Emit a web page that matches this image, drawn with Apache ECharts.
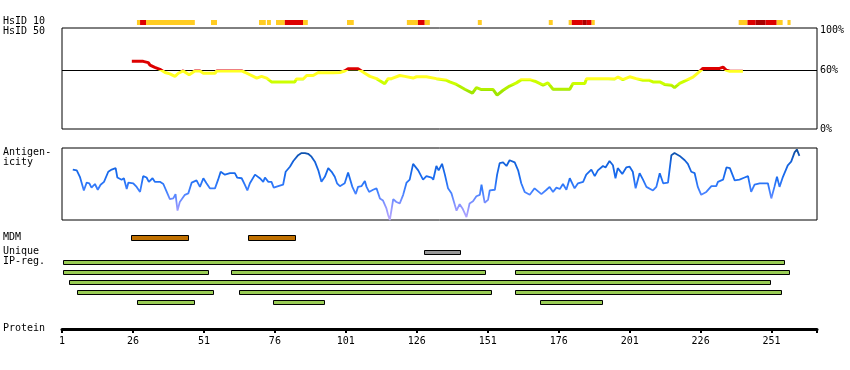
<!DOCTYPE html>
<html><head><meta charset="utf-8">
<script src="https://cdn.jsdelivr.net/npm/echarts@6/dist/echarts.min.js"></script>
<style>html,body{margin:0;padding:0;background:#fff}#c{width:850px;height:370px}</style>
</head><body><div id="c"></div>
<script>
// ---------- data ----------
const proteinTicks = [1, 26, 51, 76, 101, 126, 151, 176, 201, 226, 251];
const proteinEnd = 267;
const identityTickLabels = [0, 60, 100];

// HsID 10 segments: [start residue, end residue, level] (1 = yellow, 2 = red, 3 = dark red)
const hsid10 = [
  [27.4, 28.5, 1], [28.5, 30.6, 2], [30.6, 47.8, 1],
  [53.5, 55.6, 1],
  [70.4, 72.8, 1], [73.2, 74.6, 1],
  [76.4, 79.5, 1], [79.5, 85.9, 2], [85.9, 87.6, 1],
  [101.4, 103.8, 1],
  [122.5, 126.4, 1], [126.4, 128.8, 2], [128.8, 130.6, 1],
  [147.5, 148.9, 1],
  [172.5, 173.9, 1],
  [179.5, 180.6, 1], [180.6, 184.5, 2], [184.5, 185.9, 3], [185.9, 187.6, 2], [187.6, 188.7, 1],
  [239.4, 242.5, 1], [242.5, 245.4, 2], [245.4, 248.9, 3], [248.9, 252.8, 2], [252.8, 254.9, 1],
  [256.6, 257.7, 1]
];

// HsID 50 identity (%) : [residue, identity]
const identity = [
  [25.6, 68.8], [29.6, 68.8], [30.0, 67.5], [31.4, 67.5], [32.0, 64.9], [33.7, 62.6], [35.5, 60.7],
  [37.3, 57.4], [39.0, 56.1], [40.8, 53.5], [42.0, 56.7], [43.7, 59.0], [45.8, 55.1], [47.8, 59.0],
  [49.6, 59.0], [50.8, 56.7], [54.9, 56.7], [55.5, 59.0], [64.3, 59.0], [65.4, 57.7], [66.0, 59.3],
  [68.4, 53.5], [69.6, 51.8], [71.3, 53.5], [73.1, 51.8], [74.8, 47.9], [83.0, 47.9], [83.6, 50.8],
  [86.0, 50.8], [87.2, 54.4], [89.5, 54.4], [91.3, 57.4], [91.8, 58.7], [92.4, 57.1], [96.5, 57.1],
  [97.1, 59.0], [98.9, 57.4], [100.6, 59.0], [101.8, 61.3], [105.3, 61.3], [105.9, 60.0], [107.7, 56.7],
  [109.5, 53.5], [111.8, 51.2], [114.7, 46.0], [115.9, 51.2], [117.1, 51.2], [120.0, 54.4], [121.8, 53.5],
  [124.7, 51.8], [125.9, 53.1], [129.4, 53.1], [130.0, 51.2], [132.9, 51.2], [133.5, 49.5], [136.5, 49.5],
  [137.6, 47.9], [140.0, 45.3], [142.9, 40.4], [145.6, 36.5], [147.0, 42.0], [148.8, 40.1], [152.9, 40.1],
  [154.3, 34.5], [156.4, 39.4], [158.7, 43.7], [161.1, 46.9], [162.9, 50.2], [165.8, 50.2], [167.6, 48.6],
  [170.5, 44.6], [172.2, 46.9], [174.0, 40.4], [179.9, 40.4], [181.0, 46.3], [185.2, 46.3], [185.8, 51.2],
  [193.4, 51.2], [194.0, 52.8], [195.7, 50.8], [196.9, 52.8], [198.6, 50.2], [201.0, 53.1], [203.3, 51.2],
  [205.7, 49.5], [208.0, 49.5], [209.2, 47.9], [211.6, 47.9], [213.3, 45.3], [215.7, 44.6], [216.8, 42.0],
  [218.6, 46.3], [220.9, 49.5], [223.3, 52.8], [225.6, 58.4], [226.8, 61.6], [229.2, 61.6], [229.8, 62.9],
  [231.0, 61.6], [232.7, 61.6], [233.9, 62.9], [235.1, 59.7], [236.3, 58.7], [240.9, 58.7]
];

// Antigenicity (relative score 0-100): [residue, score]
const antigenicity = [
  [4.8, 70], [6.2, 69], [7.3, 60], [8.7, 41], [9.7, 52], [10.6, 51], [11.4, 45], [12.6, 50], [13.6, 42],
  [14.6, 49], [15.8, 53], [17.3, 67], [18.5, 70], [19.9, 72], [20.5, 59], [22.0, 56], [22.8, 58], [23.8, 43],
  [24.4, 52], [26.1, 51], [27.3, 46], [27.9, 47], [28.5, 39], [29.6, 61], [30.8, 59], [31.6, 53], [32.9, 58],
  [33.7, 53], [35.5, 53], [36.7, 50], [37.9, 39], [39.0, 29], [40.2, 30], [41.0, 36], [41.7, 13], [42.5, 25],
  [44.3, 35], [45.5, 37], [46.7, 52], [48.4, 55], [49.6, 46], [50.8, 58], [51.9, 51], [53.1, 44], [54.9, 44],
  [56.0, 56], [56.9, 67], [58.4, 63], [60.2, 65], [61.9, 65], [62.7, 59], [64.3, 58], [65.4, 49], [66.3, 41],
  [67.2, 51], [69.0, 63], [70.7, 58], [71.9, 53], [72.5, 59], [73.7, 53], [74.8, 53], [75.6, 45], [77.2, 47],
  [78.9, 49], [79.8, 67], [81.3, 74], [82.5, 82], [84.2, 90], [85.4, 93], [86.6, 93], [87.7, 92], [88.9, 88],
  [90.1, 81], [91.3, 69], [92.4, 53], [93.6, 60], [94.8, 72], [96.0, 67], [97.1, 60], [97.9, 51], [98.9, 47],
  [100.6, 51], [101.8, 66], [102.4, 65], [103.3, 46], [104.5, 36], [105.3, 46], [106.5, 47], [107.7, 54],
  [108.3, 46], [109.2, 39], [110.6, 42], [111.8, 44], [113.0, 30], [114.1, 27], [115.3, 16], [115.9, 7],
  [116.5, 0], [117.1, 0], [117.7, 29], [118.8, 25], [120.0, 23], [121.2, 35], [122.4, 52], [123.5, 56],
  [124.7, 78], [126.5, 69], [128.2, 56], [129.4, 61], [131.2, 59], [131.8, 56], [132.9, 75], [133.7, 69],
  [134.9, 78], [135.9, 63], [137.0, 44], [138.2, 37], [140.0, 13], [141.1, 22], [142.1, 16], [143.5, 4],
  [144.6, 23], [145.8, 26], [147.0, 33], [148.2, 35], [148.8, 49], [149.9, 24], [151.1, 28], [151.7, 41],
  [153.5, 42], [154.3, 63], [155.2, 79], [156.4, 80], [157.6, 75], [158.7, 83], [160.5, 80], [161.7, 69],
  [162.8, 51], [164.0, 39], [165.8, 35], [167.5, 44], [169.9, 36], [171.7, 42], [172.8, 46], [174.0, 39],
  [175.2, 45], [176.4, 43], [177.5, 50], [178.7, 42], [179.9, 58], [181.6, 44], [182.8, 51], [184.6, 53],
  [185.7, 63], [187.5, 70], [188.7, 61], [189.8, 69], [191.6, 75], [192.5, 73], [193.9, 82], [195.1, 76],
  [196.0, 58], [196.8, 72], [198.4, 64], [199.8, 73], [201.0, 74], [202.1, 67], [203.1, 44], [204.5, 65],
  [205.7, 56], [206.9, 46], [209.2, 41], [210.4, 46], [211.6, 65], [212.8, 51], [214.5, 52], [215.7, 90],
  [216.8, 93], [218.6, 89], [220.4, 83], [221.5, 78], [222.7, 67], [223.9, 65], [225.0, 46], [226.2, 35],
  [228.0, 39], [229.8, 47], [231.5, 47], [232.1, 53], [233.9, 56], [235.1, 73], [236.3, 72], [238.0, 55],
  [239.7, 56], [241.5, 59], [242.7, 61], [243.8, 39], [245.0, 49], [246.8, 51], [248.5, 51], [249.7, 51],
  [250.9, 30], [252.0, 46], [252.9, 60], [253.8, 46], [255.0, 60], [256.7, 76], [257.9, 81], [259.1, 94],
  [259.9, 98], [260.8, 89]
];

// Feature tracks: [start residue, end residue]
const mdm = [[25.4, 45.6], [66.6, 83.6]];
const unique = [[128.5, 141.7]];
const ipRegRows = [
  [[1.5, 255.8]],
  [[1.5, 52.7], [60.5, 150.5], [160.6, 257.6]],
  [[3.6, 250.9]],
  [[6.4, 54.4], [63.4, 152.6], [160.6, 254.8]],
  [[27.5, 47.7], [75.4, 93.5], [169.4, 191.7]]
];

// ---------- chart ----------
const FONT = '"DejaVu Sans Mono", "Liberation Mono", monospace';
const L = 62, W = 755;
const chart = echarts.init(document.getElementById('c'), null, { renderer: 'canvas' });

const hsColors = { 1: '#ffcc22', 2: '#dd0000', 3: '#aa0000' };

function plainRect(params, api) {
  const a = api.coord([api.value(0), 1]);
  const b = api.coord([api.value(1), 0]);
  return { type: 'rect', shape: { x: a[0], y: a[1], width: b[0] - a[0], height: b[1] - a[1] },
    style: { fill: hsColors[api.value(2)] } };
}
function boxRect(fill, h) {
  return function (params, api) {
    const row = api.value(2) || 0;
    const a = api.coord([api.value(0), row]);
    const b = api.coord([api.value(1), row]);
    const x0 = Math.round(a[0]) + 0.5, x1 = Math.round(b[0]) - 0.5;
    const y0 = Math.round(a[1] - h / 2) + 0.5;
    return { type: 'rect', shape: { x: x0, y: y0, width: x1 - x0, height: h - 1 },
      style: { fill: fill, stroke: '#000', lineWidth: 1 } };
  };
}

const grids = [
  { left: L, width: W, top: 20, height: 5 },            // 0 HsID 10
  { left: L, width: W, top: 28, height: 101, show: true, borderColor: '#000', borderWidth: 1, backgroundColor: 'transparent' }, // 1 identity
  { left: L, width: W, top: 148, height: 72, show: true, borderColor: '#000', borderWidth: 1, backgroundColor: 'transparent' }, // 2 antigenicity
  { left: L, width: W, top: 235, height: 6 },           // 3 MDM
  { left: L, width: W, top: 250, height: 5 },           // 4 Unique
  { left: L, width: W, top: 257.5, height: 50 },        // 5 IP-reg
  { left: L, width: W, top: 300, height: 29 }           // 6 protein axis
];

const xAxes = grids.map((g, i) => ({
  type: 'value', gridIndex: i, min: 1, max: proteinEnd, show: i === 6,
  position: 'bottom',
  axisLine: { show: i === 6, onZero: false, lineStyle: { color: '#000', width: 3 } },
  axisTick: { show: i === 6, customValues: proteinTicks.concat([proteinEnd]), length: 4, lineStyle: { color: '#000', width: 2 } },
  axisLabel: { show: i === 6, customValues: proteinTicks, margin: 7, color: '#000', fontFamily: FONT, fontSize: 10 },
  splitLine: { show: false }
}));

const yAxes = [
  { type: 'value', gridIndex: 0, min: 0, max: 1, show: false },
  { type: 'value', gridIndex: 1, min: 0, max: 102.7, position: 'right',
    axisLine: { show: false }, axisTick: { show: false }, splitLine: { show: false },
    axisLabel: { customValues: identityTickLabels, formatter: v => v + '%', margin: 3, padding: [3, 0, 0, 0],
      color: '#000', fontFamily: FONT, fontSize: 10 } },
  { type: 'value', gridIndex: 2, min: 0, max: 100, show: false },
  { type: 'value', gridIndex: 3, min: -1, max: 1, show: false },
  { type: 'value', gridIndex: 4, min: -1, max: 1, show: false },
  { type: 'category', gridIndex: 5, data: ipRegRows.map((r, i) => String(i)), inverse: true, show: false },
  { type: 'value', gridIndex: 6, min: 0, max: 1, show: false }
];

const ipData = [];
ipRegRows.forEach((row, i) => row.forEach(seg => ipData.push([seg[0], seg[1], i])));

const labels = [
  ['HsID 10', 22.5], ['HsID 50', 32.5], ['Antigen-', 153], ['icity', 163],
  ['MDM', 238], ['Unique', 252.5], ['IP-reg.', 262], ['Protein', 329.5]
];

chart.setOption({
  animation: false,
  backgroundColor: '#fff',
  grid: grids,
  xAxis: xAxes,
  yAxis: yAxes,
  visualMap: [
    { type: 'piecewise', show: false, seriesIndex: 1, dimension: 1,
      pieces: [
        { gte: 60.3, color: '#dd0000' },
        { gte: 50, lt: 60.3, color: '#ffff22' },
        { gte: 45, lt: 50, color: '#ccff00' },
        { gte: 40, lt: 45, color: '#b4f000' },
        { lt: 40, color: '#a0e600' }
      ] },
    { type: 'continuous', show: false, seriesIndex: 2, dimension: 1, min: 0, max: 100,
      inRange: { color: ['#b8a8ff', '#8c94ff', '#3f80ff', '#1a6cf0', '#1462dc', '#0c4a94'] } }
  ],
  graphic: labels.map(l => ({
    type: 'text', left: 3, top: l[1] - 6,
    style: { text: l[0], font: '10px ' + FONT, fill: '#000' }
  })),
  series: [
    { type: 'custom', xAxisIndex: 0, yAxisIndex: 0, data: hsid10, renderItem: plainRect, silent: true },
    { type: 'line', xAxisIndex: 1, yAxisIndex: 1, data: identity, showSymbol: false, symbol: 'none',
      lineStyle: { width: 3 }, silent: true, z: 3,
      markLine: { silent: true, symbol: ['none', 'none'], label: { show: false },
        lineStyle: { color: '#000', type: 'solid', width: 1 }, data: [{ yAxis: 60 }], z: 2 } },
    { type: 'line', xAxisIndex: 2, yAxisIndex: 2, data: antigenicity, showSymbol: false, symbol: 'none',
      lineStyle: { width: 1.8 }, silent: true },
    { type: 'custom', xAxisIndex: 3, yAxisIndex: 3, data: mdm.map(s => [s[0], s[1], 0]), renderItem: boxRect('#c07000', 6), silent: true },
    { type: 'custom', xAxisIndex: 4, yAxisIndex: 4, data: unique.map(s => [s[0], s[1], 0]), renderItem: boxRect('#999999', 5), silent: true },
    { type: 'custom', xAxisIndex: 5, yAxisIndex: 5, data: ipData, renderItem: boxRect('#99cc55', 5), silent: true }
  ]
});
</script>
</body></html>
